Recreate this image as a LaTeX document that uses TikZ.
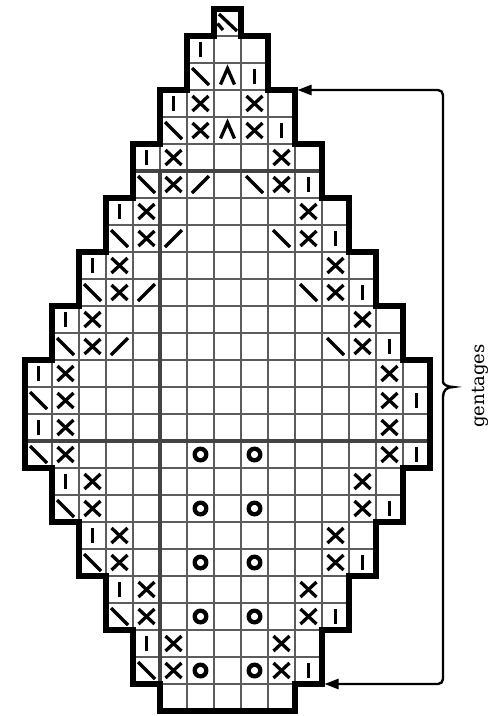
\documentclass[tikz,border=0pt]{standalone}
\usepackage{fontspec}
\setmainfont{DejaVu Serif}
\usetikzlibrary{arrows.meta}
\definecolor{gridgray}{HTML}{5C5C5C}
\definecolor{bargray}{HTML}{444444}
\tikzset{
  stitch/.style={draw=black, line width=3.3pt, line cap=butt},
  kI/.pic={\draw[stitch] (0pt,-7.5pt) -- (0pt,7.5pt);},
  kX/.pic={\draw[stitch] (-8pt,-7.5pt) -- (8pt,7.5pt) (-8pt,7.5pt) -- (8pt,-7.5pt);},
  kL/.pic={\draw[stitch] (-8.5pt,8.5pt) -- (8.5pt,-8.5pt);},
  kR/.pic={\draw[stitch] (-8.5pt,-8.5pt) -- (8.5pt,8.5pt);},
  kA/.pic={\draw[stitch, line join=miter] (-7pt,-8pt) -- (0pt,8pt) -- (7pt,-8pt);},
  kO/.pic={\draw[stitch, line width=4.3pt] (0pt,0pt) circle (5.8pt);},
  kT/.pic={\draw[stitch] (-8.5pt,8.5pt) -- (9.5pt,-8.5pt) (-10pt,-1pt) -- (-4.5pt,-7.5pt);}
}

\begin{document}
\begin{tikzpicture}[x=1pt, y=-1pt,
  cell/.style={draw=gridgray, line width=1.6pt, fill=white},
  bar/.style={draw=bargray, line width=3.6pt},
  rim/.style={draw=black, line width=5.5pt, line join=miter},
  brace/.style={line width=2.4pt, <->},
  lbl/.style={font=\fontsize{18}{22}\selectfont, rotate=90, inner sep=0pt},
  >={Triangle[length=14pt,width=10pt]}
]
\useasboundingbox (0,0) rectangle (488,716);

\begin{scope}[shift={(25,9)}, x=27pt, y=-27pt]
\foreach \r/\a/\b in {0/7/7,1/6/8,2/6/8,3/5/9,4/5/9,5/4/10,6/4/10,7/3/11,8/3/11,
    9/2/12,10/2/12,11/1/13,12/1/13,13/0/14,14/0/14,15/0/14,16/0/14,17/1/13,18/1/13,
    19/2/12,20/2/12,21/3/11,22/3/11,23/4/10,24/4/10,25/5/9}
  \foreach \c in {\a,...,\b}
    \draw[cell] (\c,\r) rectangle ++(1,1);

\draw[bar] (4,6) -- (11,6);
\draw[bar] (0,16) -- (15,16);
\draw[bar] (5,6) -- (5,25);

\pic at (7.5,0.5) {kT};
\foreach \c/\r in {6/1,8/2,5/3,9/4,4/5,10/6,3/7,11/8,2/9,12/10,1/11,13/12,0/13,14/14,
    0/15,14/16,1/17,13/18,2/19,12/20,3/21,11/22,4/23,10/24}
  \pic at (\c+.5,\r+.5) {kI};
\foreach \c/\r in {6/3,8/3,6/4,8/4,5/5,9/5,5/6,9/6,4/7,10/7,4/8,10/8,3/9,11/9,3/10,11/10,
    2/11,12/11,2/12,12/12,1/13,13/13,1/14,13/14,1/15,13/15,1/16,13/16,2/17,12/17,2/18,12/18,
    3/19,11/19,3/20,11/20,4/21,10/21,4/22,10/22,5/23,9/23,5/24,9/24}
  \pic at (\c+.5,\r+.5) {kX};
\foreach \c/\r in {6/2,5/4,4/6,3/8,2/10,1/12,0/14,0/16,1/18,2/20,3/22,4/24,8/6,9/8,10/10,11/12}
  \pic at (\c+.5,\r+.5) {kL};
\foreach \c/\r in {6/6,5/8,4/10,3/12}
  \pic at (\c+.5,\r+.5) {kR};
\foreach \c/\r in {7/2,7/4}
  \pic at (\c+.5,\r+.5) {kA};
\foreach \r in {16,18,...,24}
  \foreach \c in {6,8}
    \pic at (\c+.5,\r+.5) {kO};

\draw[rim] (7,0) -- (8,0) -- (8,1) -- (9,1) -- (9,3) -- (10,3) -- (10,5) -- (11,5) -- (11,7)
  -- (12,7) -- (12,9) -- (13,9) -- (13,11) -- (14,11) -- (14,13) -- (15,13) -- (15,17)
  -- (14,17) -- (14,19) -- (13,19) -- (13,21) -- (12,21) -- (12,23) -- (11,23) -- (11,25)
  -- (10,25) -- (10,26) -- (5,26) -- (5,25) -- (4,25) -- (4,23) -- (3,23) -- (3,21)
  -- (2,21) -- (2,19) -- (1,19) -- (1,17) -- (0,17) -- (0,13) -- (1,13) -- (1,11)
  -- (2,11) -- (2,9) -- (3,9) -- (3,7) -- (4,7) -- (4,5) -- (5,5) -- (5,3) -- (6,3)
  -- (6,1) -- (7,1) -- cycle;

\coordinate (topmark) at (10,3);
\coordinate (botmark) at (11,25);
\end{scope}

\draw[brace] ([xshift=2.5pt]topmark) [rounded corners=5pt] -- (443,90) -- (443,377)
  [sharp corners] .. controls (443,384) and (447,387) .. (453,387)
  .. controls (447,387) and (443,390) .. (443,397)
  [rounded corners=5pt] -- (443,684) -- ([xshift=2.5pt]botmark);

\node[lbl] (gentlabel) at (480,386) {gentages};
\end{tikzpicture}
\end{document}
